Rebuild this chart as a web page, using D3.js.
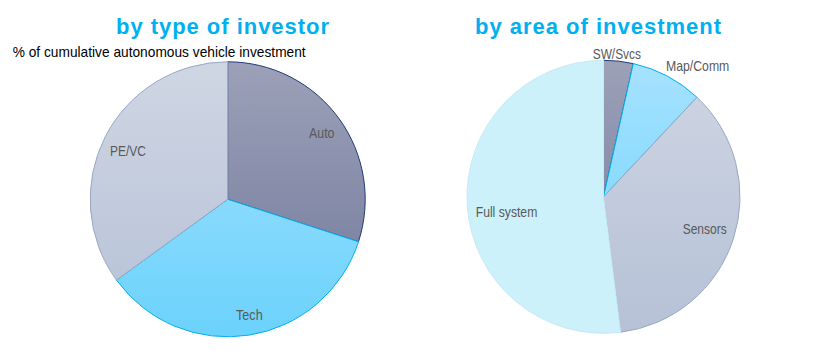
<!DOCTYPE html>
<html><head><meta charset="utf-8">
<script src="https://cdn.jsdelivr.net/npm/d3@7"></script>
<style>body{margin:0;background:#fff;}svg{display:block;}</style>
</head><body>
<svg id="chart" width="820" height="359"></svg>
<script>
// Data
const investorCategories = ["Auto", "Tech", "PE/VC"];
const investorValues = [30, 35, 35];
const areaCategories = ["SW/Svcs", "Map/Comm", "Sensors", "Full system"];
const areaValues = [3.5, 8.5, 36, 52];
const titles = ["by type of investor", "by area of investment"];
const subtitle = "% of cumulative autonomous vehicle investment";

const svg = d3.select("#chart");
const defs = svg.append("defs");

const styles = {
  dark:  {top:"#9ca1b8", bottom:"#70789a", stroke:"#1f3d78"},
  cyan:  {top:"#a6e2ff", bottom:"#6bd2fb", stroke:"#00b0f0"},
  grey:  {top:"#cfd6e3", bottom:"#b6c1d7", stroke:"#98a7c4"},
  pale:  {top:"#ccf1fb", bottom:"#ccf1fb", stroke:"#c6eaf5"}
};

function grad(id, s, r){
  const g = defs.append("linearGradient").attr("id", id)
    .attr("gradientUnits","userSpaceOnUse").attr("x1",0).attr("x2",0).attr("y1",-r).attr("y2",r);
  g.append("stop").attr("offset","0%").attr("stop-color", s.top);
  g.append("stop").attr("offset","100%").attr("stop-color", s.bottom);
}

function drawPie(opts){
  const {cats, vals, cx, cy, r, styleKeys, labels, prefix} = opts;
  const g = svg.append("g").attr("transform",`translate(${cx},${cy})`);
  const pie = d3.pie().sort(null).value(d => d.v).startAngle(0).endAngle(2*Math.PI);
  const arc = d3.arc().innerRadius(0).outerRadius(r);
  const data = cats.map((c,i)=>({c, v: vals[i], s: styleKeys[i], i}));
  data.forEach(d => grad(prefix + d.i, styles[d.s], r));
  g.selectAll("path").data(pie(data)).join("path")
    .attr("d", arc)
    .attr("fill", d => `url(#${prefix}${d.data.i})`)
    .attr("stroke", d => styles[d.data.s].stroke)
    .attr("stroke-width", 1)
    .attr("stroke-linejoin","round");
  labels.forEach((L,i)=>{
    svg.append("text")
      .attr("x", L.x).attr("y", L.y)
      .attr("font-family","Liberation Sans, Arial, sans-serif")
      .attr("font-size", 15)
      .attr("fill", "#595959")
      .attr("textLength", L.w).attr("lengthAdjust","spacingAndGlyphs")
      .text(cats[i]);
  });
}

drawPie({
  prefix:"gi", cats: investorCategories, vals: investorValues,
  cx: 227.7, cy: 199.3, r: 137.5,
  styleKeys: ["dark","cyan","grey"],
  labels: [ {x:309, y:138.3, w:25.5}, {x:236, y:320, w:26.7}, {x:110, y:155.7, w:36} ]
});
drawPie({
  prefix:"ga", cats: areaCategories, vals: areaValues,
  cx: 603.5, cy: 196.8, r: 136.5,
  styleKeys: ["dark","cyan","grey","pale"],
  labels: [ {x:592.7, y:59.3, w:48.3}, {x:666, y:70.7, w:63.3}, {x:682.7, y:234, w:44}, {x:475.7, y:217.3, w:61.6} ]
});

// Titles
const titlePos = [{x:116, w:213}, {x:475, w:246}];
titles.forEach((t,i)=>{
  svg.append("text")
    .attr("x", titlePos[i].x).attr("y", 34)
    .attr("font-family","Liberation Sans, Arial, sans-serif")
    .attr("font-weight","bold")
    .attr("font-size", 22)
    .attr("fill","#00b0f0")
    .attr("textLength", titlePos[i].w).attr("lengthAdjust","spacing")
    .text(t);
});
svg.append("text")
  .attr("x", 12.7).attr("y", 57.3)
  .attr("font-family","Liberation Sans, Arial, sans-serif")
  .attr("font-size", 15)
  .attr("fill","#000")
  .attr("textLength", 293).attr("lengthAdjust","spacingAndGlyphs")
  .text(subtitle);
</script>
</body></html>
